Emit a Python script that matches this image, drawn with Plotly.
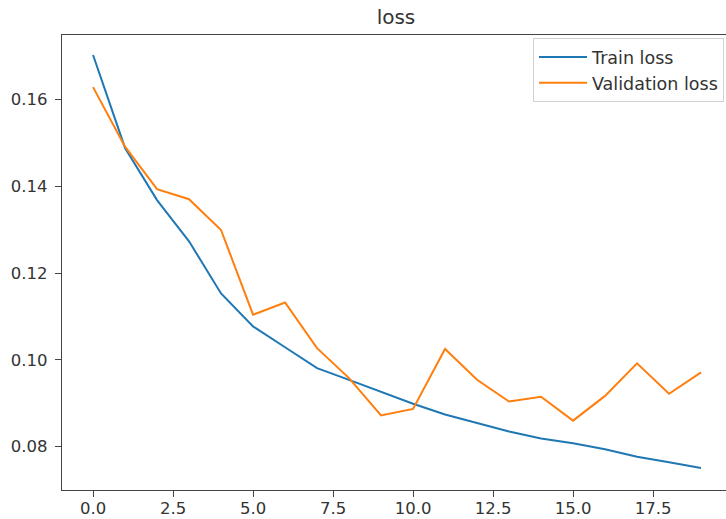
import plotly.graph_objects as go

# Per-epoch losses from training run
epochs = list(range(20))
train_loss = [0.1702, 0.1488, 0.1368, 0.1273, 0.1153, 0.1077, 0.1029, 0.0981, 0.0954, 0.0927,
              0.0899, 0.0874, 0.0854, 0.0835, 0.0819, 0.0808, 0.0794, 0.0777, 0.0764, 0.0751]
val_loss = [0.1628, 0.1491, 0.1393, 0.1370, 0.1299, 0.1104, 0.1132, 0.1027, 0.0958, 0.0872,
            0.0887, 0.1025, 0.0954, 0.0904, 0.0915, 0.0860, 0.0917, 0.0992, 0.0922, 0.0971]

x_ticks = [0.0, 2.5, 5.0, 7.5, 10.0, 12.5, 15.0, 17.5]
y_ticks = [0.08, 0.10, 0.12, 0.14, 0.16]

FONT = "DejaVu Sans"
TXT = "#333333"
SPINE = "#444444"

fig = go.Figure()
fig.add_trace(go.Scatter(x=epochs, y=train_loss, mode="lines", name="Train loss",
                         line=dict(color="#1f77b4", width=2)))
fig.add_trace(go.Scatter(x=epochs, y=val_loss, mode="lines", name="Validation loss",
                         line=dict(color="#ff7f0e", width=2)))

axis_common = dict(
    showgrid=False, zeroline=False, showline=True,
    linecolor=SPINE, linewidth=1.4,
    ticks="outside", ticklen=6, tickwidth=1.2, tickcolor=SPINE,
    tickfont=dict(family=FONT, size=16.5, color=TXT), automargin=False,
)

fig.update_layout(
    width=726, height=519,
    margin=dict(l=62, r=0, t=35, b=29),
    paper_bgcolor="white", plot_bgcolor="white",
    font=dict(family=FONT, color=TXT),
    title=dict(text="loss", x=0.503, xref="paper", xanchor="center",
               y=1 - 17 / 519, yref="container", yanchor="middle",
               font=dict(family=FONT, size=20, color=TXT)),
    # top spine drawn by mirroring the x axis; the right edge is left open
    xaxis=dict(range=[-0.97, 19.78], tickvals=x_ticks, mirror=True,
               ticklabelstandoff=-3,
               ticktext=[f"{v:.1f}" for v in x_ticks], **axis_common),
    yaxis=dict(range=[0.07003, 0.17481], tickvals=y_ticks, mirror=False,
               ticklabelstandoff=4,
               ticktext=[f"{v:.2f}" for v in y_ticks], **axis_common),
    legend=dict(x=0.997, y=0.993, xanchor="right", yanchor="top",
                itemwidth=48,
                bgcolor="rgba(255,255,255,0.8)", bordercolor="#d0d0d0", borderwidth=1,
                font=dict(family=FONT, size=17.5, color=TXT)),
    showlegend=True,
)

fig.write_html("out.html")
